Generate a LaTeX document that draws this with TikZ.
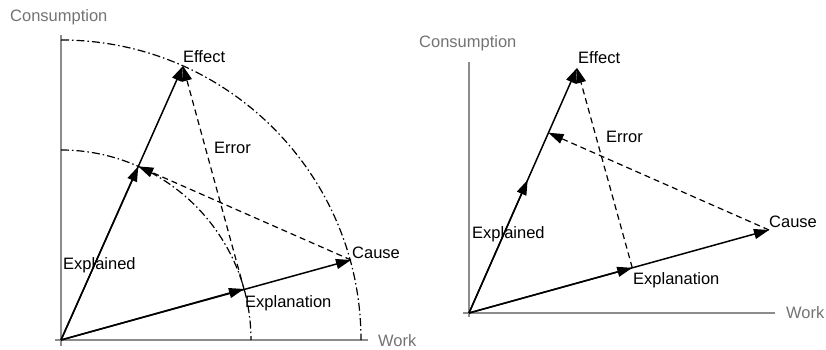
\documentclass[tikz,border=0pt]{standalone}
\usepackage{fontspec}
\setmainfont{Liberation Sans}
\usetikzlibrary{arrows.meta,calc}
\begin{document}
\begin{tikzpicture}[x=1pt,y=1pt,
  vec/.style={line width=1.5pt, -{Triangle[length=15pt,width=10pt]}},
  errvec/.style={line width=1.2pt, dash pattern=on 6pt off 4pt, -{Triangle[length=15pt,width=10pt]}},
  circ/.style={line width=1.2pt, dash pattern=on 8pt off 3pt on 1.5pt off 3pt},
  axisline/.style={line width=1.2pt, draw=black!45},
  axlabel/.style={text=black!55, font=\fontsize{16.5}{19}\selectfont, anchor=west, inner sep=0pt},
  lbl/.style={text=black, font=\fontsize{16.5}{19}\selectfont, anchor=west, inner sep=0pt}]
\useasboundingbox (0,0) rectangle (826,350);

% ---------- left diagram ----------
\coordinate (O1) at (61,10);
\coordinate (E1) at (183,284);
\coordinate (C1) at (351,90);
\coordinate (X1) at (138.3,183.6);
\coordinate (P1) at (244,61);
\coordinate (V1t) at (61,315);
\coordinate (V1b) at (61,4);
\coordinate (H1l) at (55,10);
\coordinate (H1r) at (368,10);

\draw[axisline] (V1b) -- (V1t);
\draw[axisline] (H1l) -- (H1r);

\draw[circ] (61,310) arc[start angle=90,end angle=0,radius=300];
\draw[circ] (61,200) arc[start angle=90,end angle=0,radius=190];

\draw[vec] (O1) -- (E1);
\draw[vec] (O1) -- (X1);
\draw[vec] (O1) -- (C1);
\draw[vec] (O1) -- (P1);
\draw[errvec] (P1) -- (E1);
\draw[errvec] (C1) -- (X1);

\node[axlabel] (cons1) at (10,333) {Consumption};
\node[axlabel] (work1) at (378,9) {Work};
\node[lbl] (eff1) at (183,293) {Effect};
\node[lbl] (err1) at (214,202) {Error};
\node[lbl] (cau1) at (352,97) {Cause};
\node[lbl] (exd1) at (63,85) {Explained};
\node[lbl] (exn1) at (245,47) {Explanation};

% ---------- right diagram ----------
\coordinate (O2) at (469,37);
\coordinate (E2) at (577,282);
\coordinate (C2) at (769,120);
\coordinate (P2) at ($(O2)!(E2)!(C2)$);
\coordinate (X2) at ($(O2)!(C2)!(E2)$);
\coordinate (M2) at ($(O2)!0.543!(E2)$);
\coordinate (V2t) at (469,288);
\coordinate (V2b) at (469,33);
\coordinate (H2l) at (463,37);
\coordinate (H2r) at (775,37);

\draw[axisline] (V2b) -- (V2t);
\draw[axisline] (H2l) -- (H2r);

\draw[vec] (O2) -- (E2);
\draw[vec] (O2) -- (M2);
\draw[vec] (O2) -- (C2);
\draw[vec] (O2) -- (P2);
\draw[errvec] (P2) -- (E2);
\draw[errvec] (C2) -- (X2);

\node[axlabel] (cons2) at (419,307) {Consumption};
\node[axlabel] (work2) at (786,37) {Work};
\node[lbl] (eff2) at (578,292) {Effect};
\node[lbl] (err2) at (606,213) {Error};
\node[lbl] (cau2) at (769,128) {Cause};
\node[lbl] (exd2) at (472,116) {Explained};
\node[lbl] (exn2) at (633,70) {Explanation};
\end{tikzpicture}
\end{document}
